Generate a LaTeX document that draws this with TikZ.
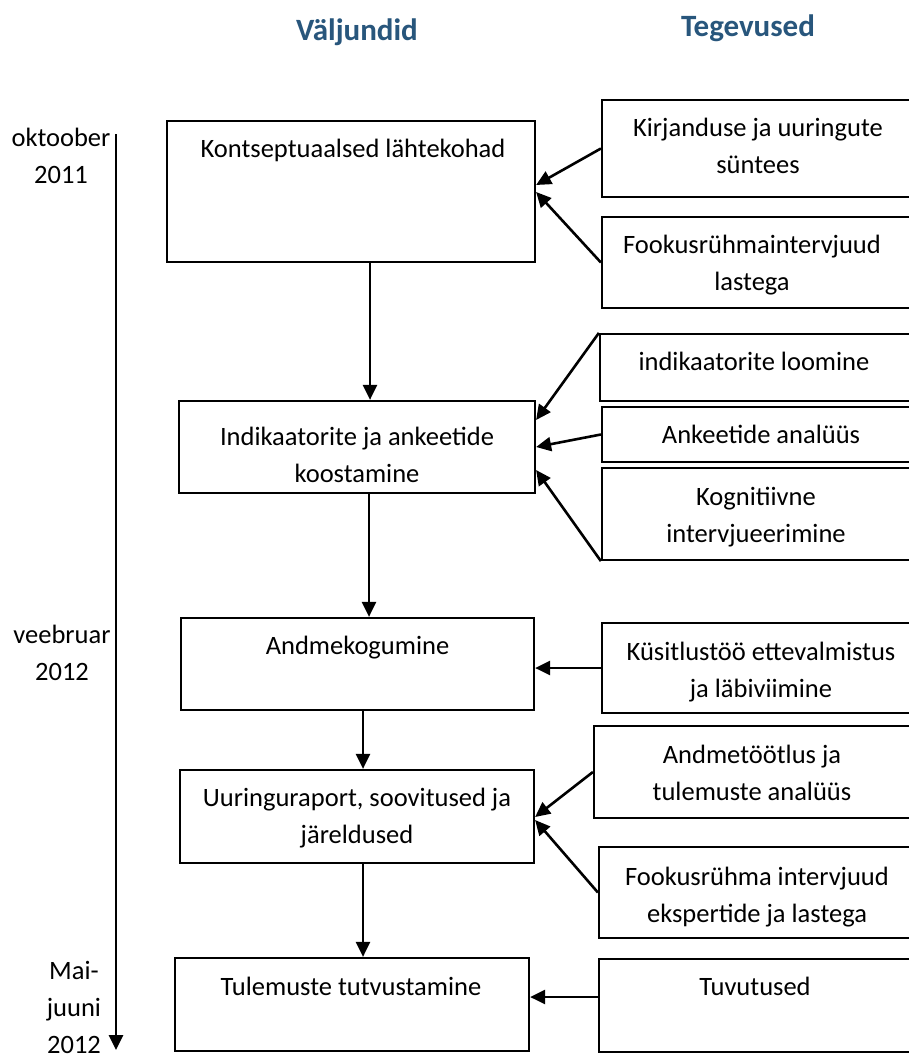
\documentclass[tikz,border=0pt]{standalone}
\usepackage{fontspec}
\setmainfont{Carlito}
\usetikzlibrary{arrows.meta,calc}
\definecolor{headblue}{RGB}{40,86,124}
\begin{document}
\begin{tikzpicture}[x=1pt,y=-1pt,
  box/.style={draw, line width=2.2pt, inner sep=0pt},
  txt/.style={font=\fontsize{26.5}{37}\selectfont, align=center, inner sep=0pt, anchor=base},
  head/.style={font=\fontsize{31}{37}\selectfont\bfseries, text=headblue, inner sep=0pt, anchor=base},
  arr/.style={line width=2.6pt, -{Triangle[length=15pt,width=14pt]}},
]
\useasboundingbox (0,0) rectangle (909,1061);
\clip (0,0) rectangle (909,1061);

% headings
\node[head] (h1) at (357,40) {Väljundid};
\node[head] (h2) at (748,36) {Tegevused};

% output boxes
\node[box, minimum width=368pt, minimum height=141pt] (b1) at (351,191.5) {};
\node[box, minimum width=356pt, minimum height=92pt] (b2) at (357,447) {};
\node[box, minimum width=353pt, minimum height=92pt] (b3) at (357.5,664) {};
\node[box, minimum width=354pt, minimum height=93pt] (b4) at (357,816.5) {};
\node[box, minimum width=354pt, minimum height=93pt] (b5) at (352,1004.5) {};

% activity boxes
\node[box, minimum width=310pt, minimum height=97pt] (r1) at (757,148.5) {};
\node[box, minimum width=310pt, minimum height=91pt] (r2) at (757,262.5) {};
\node[box, minimum width=312pt, minimum height=67pt] (r3) at (756,367.5) {};
\node[box, minimum width=310pt, minimum height=55pt] (r4) at (757,434.5) {};
\node[box, minimum width=310pt, minimum height=92pt] (r5) at (757,514) {};
\node[box, minimum width=310pt, minimum height=90pt] (r6) at (757,668) {};
\node[box, minimum width=318pt, minimum height=92pt] (r7) at (753,772) {};
\node[box, minimum width=313pt, minimum height=91pt] (r8) at (755.5,892.5) {};
\node[box, minimum width=313pt, minimum height=93pt] (r9) at (755.5,1005.5) {};

% texts of output boxes (base = last line's baseline)
\node[txt] (t1) at (353,157) {Kontseptuaalsed lähtekohad};
\node[txt] (t2) at (357,482) {Indikaatorite ja ankeetide\\koostamine};
\node[txt] (t3) at (357.5,654) {Andmekogumine};
\node[txt] (t4) at (357,843) {Uuringuraport, soovitused ja\\järeldused};
\node[txt] (t5) at (351,995) {Tulemuste tutvustamine};

% texts of activity boxes
\node[txt] (s1) at (758,173) {Kirjanduse ja uuringute\\süntees};
\node[txt] (s2) at (752,290) {Fookusrühmaintervjuud\\lastega};
\node[txt] (s3) at (754,370) {indikaatorite loomine};
\node[txt] (s4) at (761,443) {Ankeetide analüüs};
\node[txt] (s5) at (756,542) {Kognitiivne\\intervjueerimine};
\node[txt] (s6) at (761,697) {Küsitlustöö ettevalmistus\\ja läbiviimine};
\node[txt] (s7) at (752,800) {Andmetöötlus ja\\tulemuste analüüs};
\node[txt] (s8) at (757,922) {Fookusrühma intervjuud\\ekspertide ja lastega};
\node[txt] (s9) at (755,995) {Tuvutused};

% timeline
\coordinate (tl0) at (116,134);
\coordinate (tl1) at (116,1050);
\draw[arr] (tl0) -- (tl1);
\node[txt] (d1) at (61,183) {oktoober\\2011};
\node[txt] (d2) at (62,680) {veebruar\\2012};
\node[txt] (d3) at (74,1053) {Mai-\\juuni\\2012};

% arrows from activities
\draw[arr] (r1.west) -- (b1.east |- 0,185);
\draw[arr] (r2.west) -- (b1.east |- 0,192);
\draw[arr] (r3.north west) -- (b2.east |- 0,420);
\draw[arr] (r4.west) -- (b2.east |- 0,447);
\draw[arr] (r5.south west) -- (b2.east |- 0,470);
\draw[arr] (r6.west) -- (b3.east |- r6.west);
\draw[arr] (r7.west) -- (b4.east |- 0,817);
\draw[arr] (r8.west) -- (b4.east |- 0,820);
\draw[arr] (r9.west |- 0,997) -- (b5.east |- 0,997);

% flow arrows
\draw[arr] (b1.south -| 370,0) -- (b2.north -| 370,0);
\draw[arr] (b2.south -| 369,0) -- (b3.north -| 369,0);
\draw[arr] (b3.south -| 363,0) -- (b4.north -| 363,0);
\draw[arr] (b4.south -| 363,0) -- (b5.north -| 363,0);
\end{tikzpicture}
\end{document}
